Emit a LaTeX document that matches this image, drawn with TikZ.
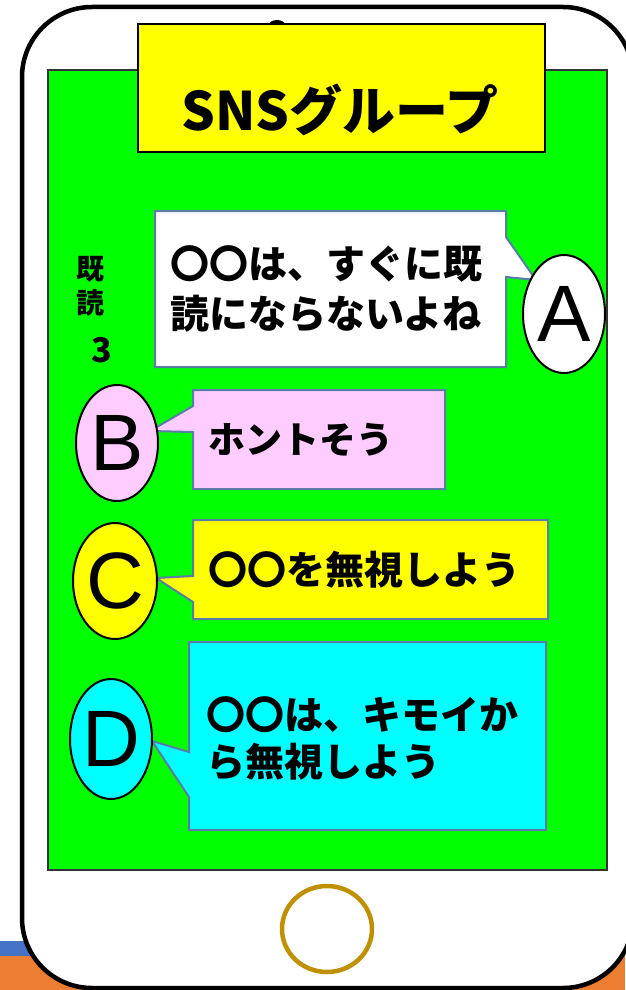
\documentclass[tikz,border=0pt]{standalone}
\usepackage{fontspec}
\newfontfamily\jp{Noto Sans CJK JP}
\newfontfamily\lat{Liberation Sans}
\definecolor{scrgreen}{HTML}{00FF00}
\definecolor{ttlyellow}{HTML}{FFFF00}
\definecolor{pinkbox}{HTML}{FFCCFF}
\definecolor{cyanbox}{HTML}{00FFFF}
\definecolor{calloutline}{HTML}{5A7DA6}
\definecolor{gold}{HTML}{BF9000}
\definecolor{stripblue}{HTML}{4472C4}
\definecolor{striporange}{HTML}{ED7D31}
\tikzset{
  callout/.style={draw=calloutline, line width=2pt, line join=miter},
  person/.style={draw=black, line width=2pt, ellipse},
  lettertxt/.style={font=\lat\fontsize{80}{80}\selectfont, inner sep=0pt},
  msgtxt/.style={font=\jp\bfseries\fontsize{39}{50}\selectfont, align=left, anchor=west, inner sep=0pt},
  readtxt/.style={font=\jp\bfseries\fontsize{28}{28}\selectfont, inner sep=0pt}
}
\usetikzlibrary{shapes.geometric}
\begin{document}
\begin{tikzpicture}[x=1pt,y=-1pt]
\useasboundingbox (0,0) rectangle (625,990);
% background strips
\fill[stripblue] (0,941) rectangle (625,956);
\fill[striporange] (0,956) rectangle (625,990);
% phone body
\draw[line width=4.5pt, fill=white, rounded corners=70pt] (22,7) rectangle (633,988);
% top camera bump
\fill[black] (277,25) ellipse [x radius=8, y radius=5];
% screen
\draw[fill=scrgreen, line width=1.3pt, draw=black!80] (48,70) rectangle (607,870);
% title
\node[draw=black, line width=1.3pt, fill=ttlyellow, minimum width=407pt, minimum height=128pt, inner sep=0pt] (title) at (341.5,88) {};
\node[font=\jp\bfseries\fontsize{53}{53}\selectfont, inner sep=0pt] (titletxt) at (340,110) {SNSグループ};
% read count
\node[readtxt] (ki) at (90,269) {既};
\node[readtxt] (doku) at (90,303) {読};
\node[font=\jp\bfseries\fontsize{34}{34}\selectfont, inner sep=0pt] (three) at (102,350) {3};
% callout A
\draw[callout, fill=white] (155,211) -- (506,211) -- (506,237) -- (536,280) -- (506,277) -- (506,367) -- (155,367) -- cycle;
\node[msgtxt] (ta) at (170,289) {〇〇は、すぐに既\\読にならないよね};
% callout B
\draw[callout, fill=pinkbox] (193,390) -- (445,390) -- (445,489) -- (193,489) -- (193,432) -- (150,431) -- (193,406) -- cycle;
\node[msgtxt, font=\jp\bfseries\fontsize{37}{49}\selectfont] (tb) at (208,440) {ホントそう};
% callout C
\draw[callout, fill=ttlyellow] (193,520) -- (548,520) -- (548,619) -- (193,619) -- (193,602) -- (156,578) -- (193,576) -- cycle;
\node[msgtxt] (tc) at (208,570) {〇〇を無視しよう};
% callout D
\draw[callout, fill=cyanbox] (189,642) -- (546,642) -- (546,830) -- (189,830) -- (189,797) -- (152,741) -- (189,752) -- cycle;
\node[msgtxt, font=\jp\bfseries\fontsize{39}{47}\selectfont] (td) at (206,738) {〇〇は、キモイか\\ら無視しよう};
% persons
\node[person, fill=white, minimum width=82pt, minimum height=118pt, inner sep=0pt] (pa) at (564,314) {};
\node[lettertxt] at (pa.center) {A};
\node[person, fill=pinkbox, minimum width=82pt, minimum height=116pt, inner sep=0pt] (pb) at (117,443) {};
\node[lettertxt] at (pb.center) {B};
\node[person, fill=ttlyellow, minimum width=84pt, minimum height=116pt, inner sep=0pt] (pc) at (115,581) {};
\node[lettertxt] at (pc.center) {C};
\node[person, fill=cyanbox, minimum width=82pt, minimum height=120pt, inner sep=0pt] (pd) at (111,739) {};
\node[lettertxt] at (pd.center) {D};
% home button
\draw[gold, line width=4.5pt] (327,929) ellipse [x radius=45, y radius=43];
\end{tikzpicture}
\end{document}
